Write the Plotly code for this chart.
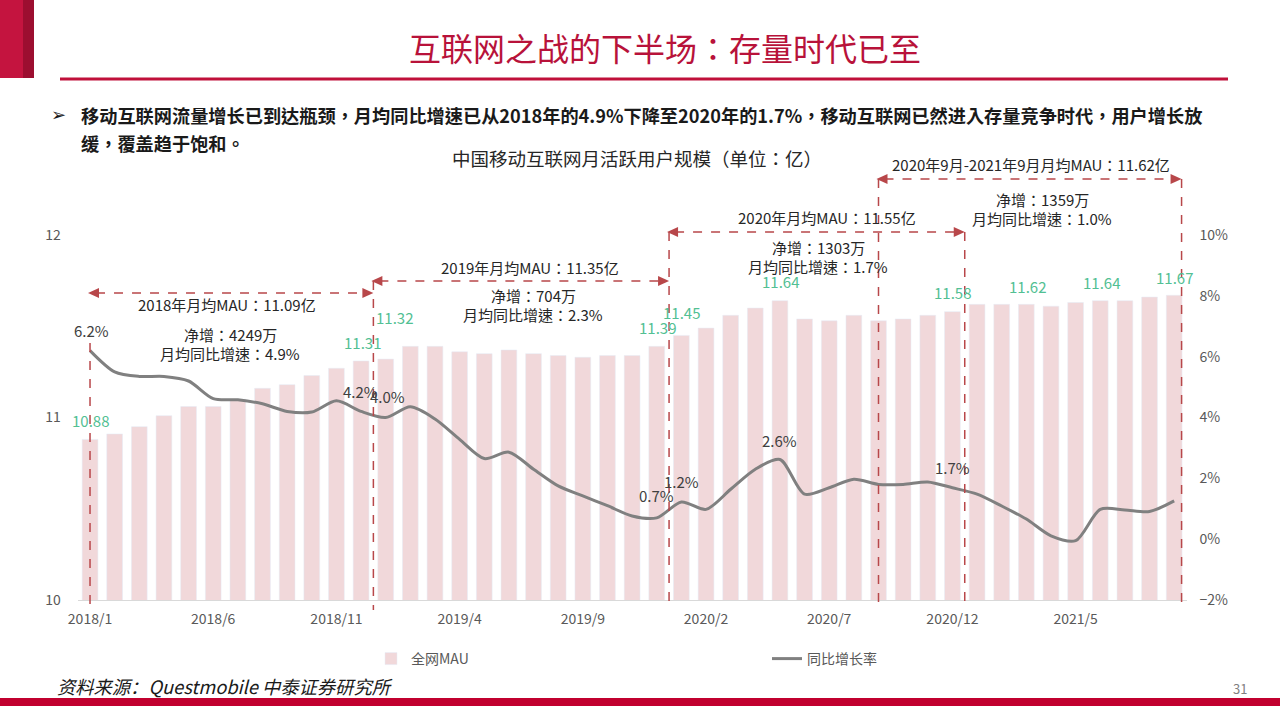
import plotly.graph_objects as go

# ---------------- data ----------------
months = ["2018/1", "2018/2", "2018/3", "2018/4", "2018/5", "2018/6", "2018/7", "2018/8", "2018/9",
          "2018/10", "2018/11", "2018/12", "2019/1", "2019/2", "2019/3", "2019/4", "2019/5", "2019/6",
          "2019/7", "2019/8", "2019/9", "2019/10", "2019/11", "2019/12", "2020/1", "2020/2", "2020/3",
          "2020/4", "2020/5", "2020/6", "2020/7", "2020/8", "2020/9", "2020/10", "2020/11", "2020/12",
          "2021/1", "2021/2", "2021/3", "2021/4", "2021/5", "2021/6", "2021/7", "2021/8", "2021/9"]

mau = [10.88, 10.91, 10.95, 11.01, 11.06, 11.06, 11.10, 11.16, 11.18, 11.23,
       11.27, 11.31, 11.32, 11.39, 11.39, 11.36, 11.35, 11.37, 11.35, 11.34,
       11.33, 11.34, 11.34, 11.39, 11.45, 11.49, 11.56, 11.60, 11.64, 11.54,
       11.53, 11.56, 11.53, 11.54, 11.56, 11.58, 11.62, 11.62, 11.62, 11.61,
       11.63, 11.64, 11.64, 11.66, 11.67]

growth = [6.2, 5.5, 5.35, 5.35, 5.2, 4.62, 4.58, 4.45, 4.2, 4.18,
          4.55, 4.2, 4.0, 4.35, 3.95, 3.28, 2.65, 2.86, 2.3, 1.75,
          1.42, 1.1, 0.76, 0.7, 1.22, 0.98, 1.64, 2.3, 2.62, 1.48,
          1.69, 1.97, 1.8, 1.8, 1.88, 1.69, 1.48, 1.09, 0.66, 0.11,
          -0.05, 0.98, 0.96, 0.91, 1.26]

xtick_labels = ["2018/1", "2018/6", "2018/11", "2019/4", "2019/9", "2020/2", "2020/7", "2020/12", "2021/5"]

mau_label_idx = [0, 11, 12, 23, 24, 28, 35, 38, 41, 44]
growth_label_idx = [0, 11, 12, 23, 24, 28, 35]

periods = [
    ("2018年月均MAU：11.09亿", "净增：4249万", "月均同比增速：4.9%"),
    ("2019年月均MAU：11.35亿", "净增：704万", "月均同比增速：2.3%"),
    ("2020年月均MAU：11.55亿", "净增：1303万", "月均同比增速：1.7%"),
    ("2020年9月-2021年9月月均MAU：11.62亿", "净增：1359万", "月均同比增速：1.0%"),
]

title_text = "互联网之战的下半场：存量时代已至"
bullet_line1 = "移动互联网流量增长已到达瓶颈，月均同比增速已从2018年的4.9%下降至2020年的1.7%，移动互联网已然进入存量竞争时代，用户增长放"
bullet_line2 = "缓，覆盖趋于饱和。"
chart_title = "中国移动互联网月活跃用户规模（单位：亿）"
source_text = "资料来源：Questmobile 中泰证券研究所"
page_no = "31"

# ---------------- layout helpers ----------------
W, H = 1280, 720
FONT = "Noto Sans CJK SC, Noto Sans, sans-serif"
FONT_C = "Noto Sans CJK TC, Noto Sans CJK SC, sans-serif"   # centred full-width punctuation
RED = "#C0103A"
DASH = "#B8474A"
X0, X1 = 77.7, 1186.5          # plot area pixel bounds
N = len(months)


def px(x):
    return x / W


def py(y):
    return 1 - y / H


def cat_px(c):
    return X0 + (c + 0.5) * (X1 - X0) / N


fig = go.Figure()
fig.add_trace(go.Bar(x=months, y=mau, name="全网MAU", marker_color="#F1D8DA",
                     width=0.64, yaxis="y"))
fig.add_trace(go.Scatter(x=months, y=growth, name="同比增长率", mode="lines",
                         line=dict(color="#808080", width=3, shape="spline", smoothing=0.8),
                         yaxis="y2"))

shapes = []
# header decorations
shapes.append(dict(type="rect", xref="paper", yref="paper", x0=px(0), x1=px(23), y0=py(78), y1=py(0),
                   fillcolor="#C4143F", line_width=0, layer="above"))
shapes.append(dict(type="rect", xref="paper", yref="paper", x0=px(23), x1=px(34), y0=py(78), y1=py(0),
                   fillcolor="#9C0E30", line_width=0, layer="above"))
shapes.append(dict(type="line", xref="paper", yref="paper", x0=px(60), x1=px(1228), y0=py(79), y1=py(79),
                   line=dict(color=RED, width=3)))
shapes.append(dict(type="rect", xref="paper", yref="paper", x0=0, x1=1, y0=py(706), y1=py(698),
                   fillcolor="#C1002F", line_width=0))

# dashed period markers
vlines = [(0, 343), (11.5, 281), (23.5, 232), (32, 179), (35.5, 232), (44.3, 179)]
for c, ytop in vlines:
    xp = cat_px(c)
    shapes.append(dict(type="line", xref="paper", yref="paper", x0=px(xp), x1=px(xp),
                       y0=py(ytop), y1=py(610), line=dict(color=DASH, width=1.5, dash="dash"), layer="above"))

harrows = [(0, 11.5, 293), (11.5, 23.5, 281), (23.5, 35.5, 232), (32, 44.3, 179)]
for c0, c1, yy in harrows:
    xa, xb = cat_px(c0), cat_px(c1)
    shapes.append(dict(type="line", xref="paper", yref="paper", x0=px(xa + 6), x1=px(xb - 6),
                       y0=py(yy), y1=py(yy), line=dict(color=DASH, width=1.5, dash="dash"), layer="above"))
    shapes.append(dict(type="path", xref="paper", yref="paper",
                       path=f"M {px(xa - 2)} {py(yy)} L {px(xa + 9)} {py(yy - 5)} L {px(xa + 9)} {py(yy + 5)} Z",
                       fillcolor=DASH, line_width=0, layer="above"))
    shapes.append(dict(type="path", xref="paper", yref="paper",
                       path=f"M {px(xb)} {py(yy)} L {px(xb - 11)} {py(yy - 5)} L {px(xb - 11)} {py(yy + 5)} Z",
                       fillcolor=DASH, line_width=0, layer="above"))

annotations = []


def text(x, y, t, size=15, color="#262626", xanchor="center", family=FONT_C, **kw):
    annotations.append(dict(xref="paper", yref="paper", x=px(x), y=py(y), text=t, showarrow=False,
                            xanchor=xanchor, yanchor="middle",
                            font=dict(family=family, size=size, color=color), **kw))


text(665, 47, title_text, size=32, color="#B8123A")
text(49, 115, "➢", size=18, color="#1a1a1a", xanchor="left", family="DejaVu Sans")
text(79, 115, "<b>" + bullet_line1 + "</b>", size=18.2, color="#1a1a1a", xanchor="left")
text(79, 143, "<b>" + bullet_line2 + "</b>", size=18.2, color="#1a1a1a", xanchor="left")
text(637, 158, chart_title, size=18.5, color="#262626")

block_pos = [((227, 304), (230, 334), (230, 353)),
             ((530, 267), (533, 295), (533, 314)),
             ((827, 217), (818, 247), (818, 266)),
             ((1031, 165), (1042, 199), (1042, 218))]
for (t1, t2, t3), (p1, p2, p3) in zip(periods, block_pos):
    text(p1[0], p1[1], t1, size=15)
    text(p2[0], p2[1], t2, size=15)
    text(p3[0], p3[1], t3, size=15)

# data labels on bars
mau_shift = {0: (0, 19), 11: (1, 18), 12: (9, 42), 23: (1, 19), 24: (0, 23), 28: (1, 19),
             35: (0, 19), 38: (1, 18), 41: (1, 18), 44: (0, 18)}
for i in mau_label_idx:
    dx, dy = mau_shift[i]
    annotations.append(dict(xref="x", yref="y", x=months[i], y=mau[i], text=f"{mau[i]:.2f}",
                            showarrow=False, xshift=dx, yshift=dy, yanchor="middle",
                            font=dict(family=FONT, size=15, color="#52C093")))

growth_shift = {0: (1, 20), 11: (-1, 20), 12: (2, 21), 23: (0, 22), 24: (0, 21), 28: (0, 19), 35: (0, 20)}
for i in growth_label_idx:
    dx, dy = growth_shift[i]
    annotations.append(dict(xref="x", yref="y2", x=months[i], y=growth[i], text=f"{growth[i]:.1f}%",
                            showarrow=False, xshift=dx, yshift=dy, yanchor="middle",
                            font=dict(family=FONT, size=15, color="#404040")))

text(55, 686, "<i>" + source_text + "</i>", size=18.3, color="#1a1a1a", xanchor="left", family=FONT)
text(1240, 688, page_no, size=13, color="#7f7f7f", family=FONT)

tickfont = dict(family=FONT, size=14, color="#595959")
fig.update_layout(
    width=W, height=H,
    autosize=False,
    margin=dict(l=0, r=0, t=0, b=0, pad=0, autoexpand=False),
    paper_bgcolor="white", plot_bgcolor="white",
    bargap=0.36,
    xaxis=dict(type="category", domain=[px(X0), px(X1)], range=[-0.5, N - 0.5],
               tickmode="array", tickvals=xtick_labels, ticktext=xtick_labels,
               showline=True, linecolor="#D9D9D9", linewidth=1, ticks="", automargin=False,
               showgrid=False, tickfont=tickfont, ticklabelstandoff=6),
    yaxis=dict(domain=[py(600), py(235)], range=[10, 12], dtick=1, showgrid=False, automargin=False,
               zeroline=False, showline=False, ticks="", tickfont=tickfont, ticklabelstandoff=16),
    yaxis2=dict(overlaying="y", side="right", range=[-2, 10], dtick=2, ticksuffix="%", automargin=False,
                showgrid=False, zeroline=False, showline=False, ticks="", tickfont=tickfont,
                ticklabelstandoff=12),
    legend=dict(orientation="h", x=px(371), y=py(659), xanchor="left", yanchor="middle",
                entrywidth=351, entrywidthmode="pixels",
                font=dict(family=FONT, size=14, color="#595959"), bgcolor="rgba(0,0,0,0)"),
    shapes=shapes,
    annotations=annotations,
    font=dict(family=FONT),
)

fig.write_html("out.html", config={"responsive": False, "displayModeBar": False},
               post_script="document.body.style.margin='0px';document.body.style.padding='0px';")
